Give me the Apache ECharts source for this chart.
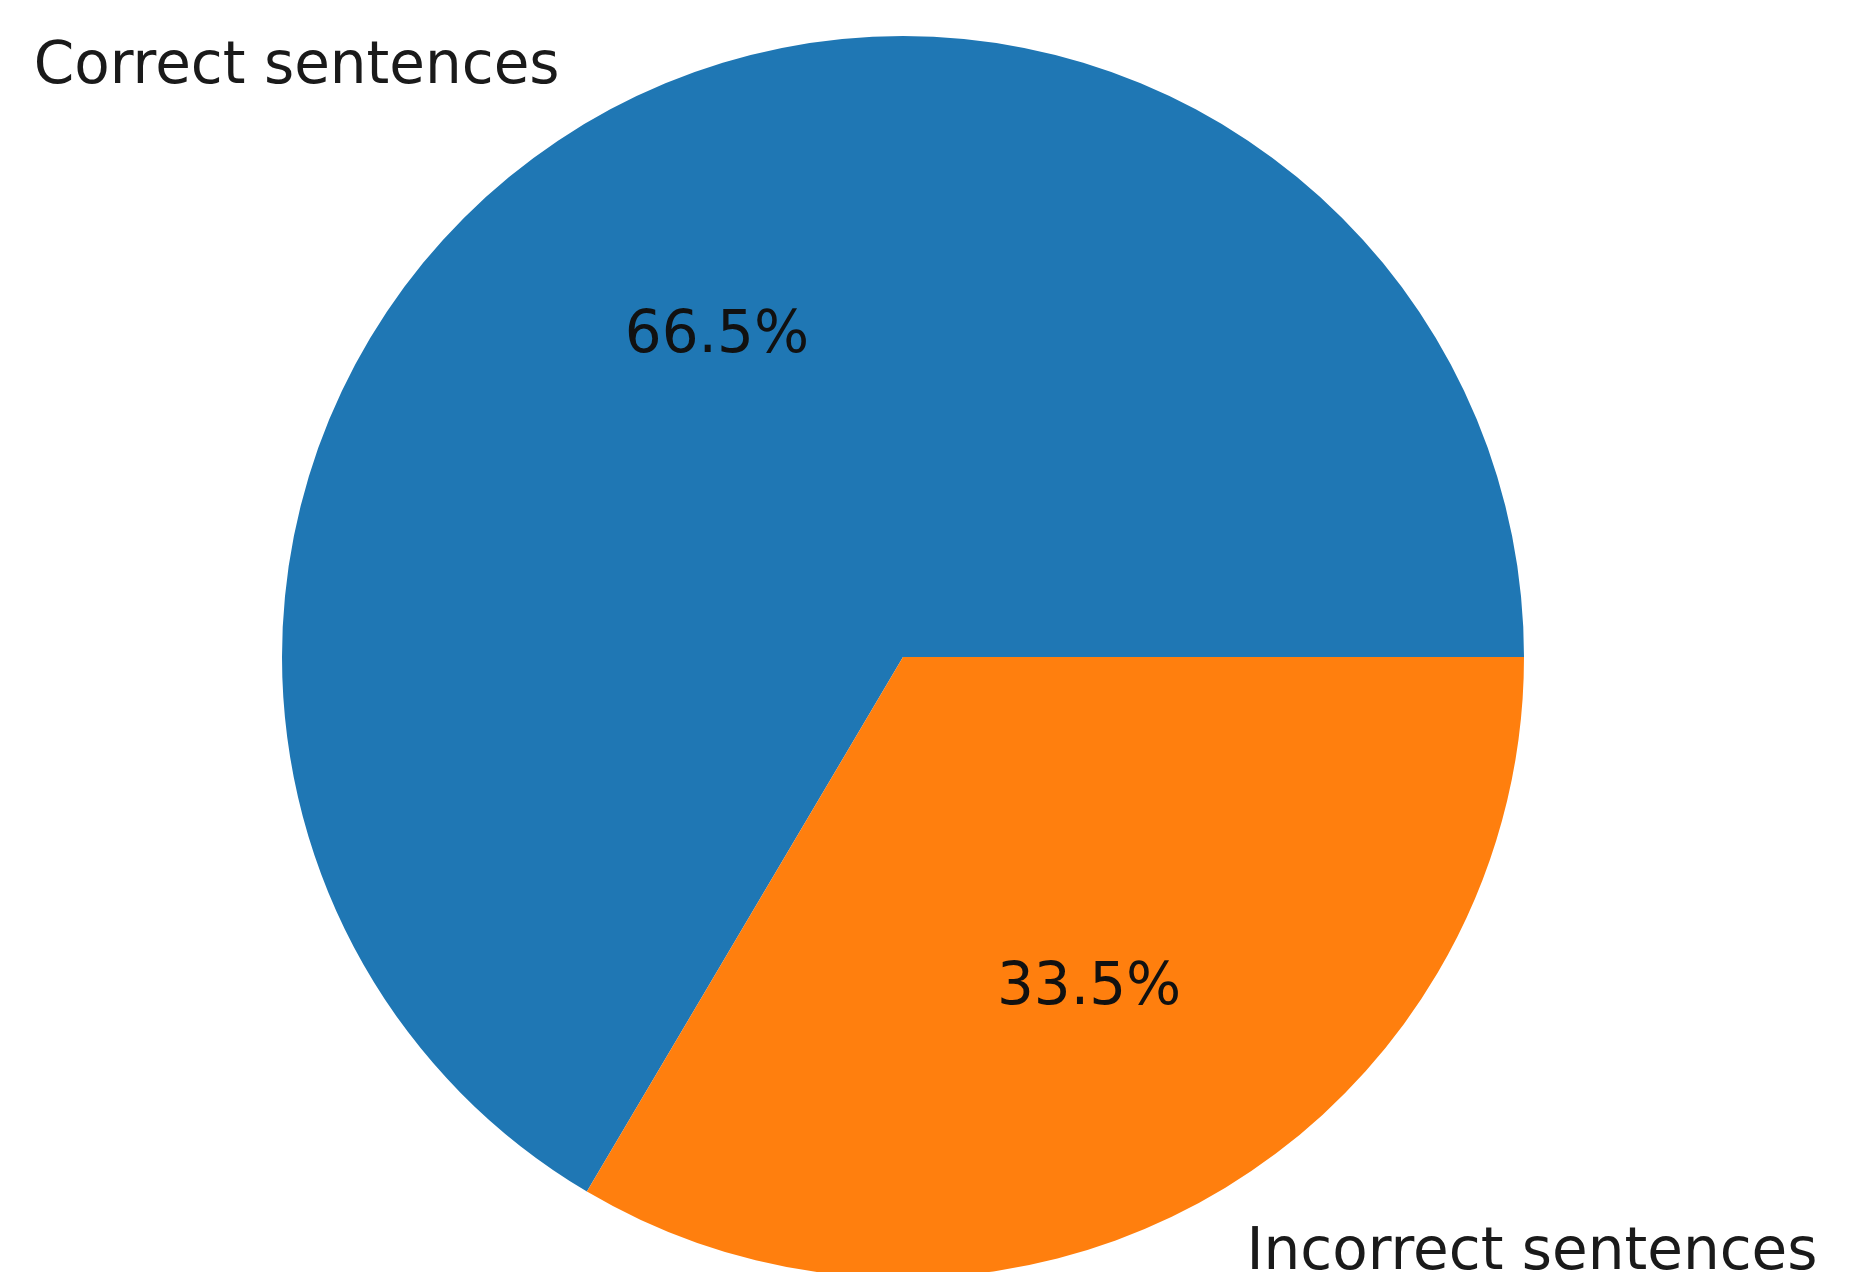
<!DOCTYPE html>
<html lang="en">
<head>
    <meta charset="UTF-8">
    <title>Sentences</title>
    <script src="https://cdn.jsdelivr.net/npm/echarts@6/dist/echarts.min.js"></script>
    <style>
        html, body { margin: 0; padding: 0; background: #fff; }
    </style>
</head>
<body>
    <div id="main" style="width: 1851px;height:1272px;"></div>
    <script type="text/javascript">
        const labels = ['Correct sentences', 'Incorrect sentences'];
        const shares = [66.5, 33.5];
        const colors = ['#1f77b4', '#ff7f0e'];

        var chartDom = document.getElementById('main');
        var myChart = echarts.init(chartDom);

        const R = 621;
        const center = [903, 657];
        const textFont = 'DejaVu Sans';

        const mainData = labels.map(function (name, i) {
            return { name: name, value: shares[i], itemStyle: { color: colors[i] } };
        });
        const pctData = labels.map(function (name, i) {
            return { name: name, value: shares[i] };
        });

        var option = {
            animation: false,
            series: [
                {
                    // the pie itself, names placed just outside (like matplotlib at 1.1r)
                    type: 'pie',
                    center: center,
                    radius: [0, R],
                    startAngle: 0,
                    clockwise: false,
                    avoidLabelOverlap: false,
                    silent: true,
                    label: {
                        show: true,
                        position: 'outside',
                        formatter: '{b}',
                        fontFamily: textFont,
                        fontSize: 58,
                        color: '#1a1a1a',
                        verticalAlign: 'middle',
                        offset: [0, 4]
                    },
                    labelLine: { show: false, length: R * 0.1, length2: 0 },
                    itemStyle: { borderWidth: 0 },
                    data: mainData
                },
                {
                    // invisible copy so the inside label lands at 0.6r
                    type: 'pie',
                    center: center,
                    radius: [0, R * 1.2],
                    startAngle: 0,
                    clockwise: false,
                    silent: true,
                    label: {
                        show: true,
                        position: 'inside',
                        formatter: function (p) {
                            return p.value.toFixed(1) + '%';
                        },
                        fontFamily: textFont,
                        fontSize: 58,
                        color: '#111',
                        offset: [0, 6]
                    },
                    itemStyle: { color: 'rgba(0,0,0,0)', borderWidth: 0 },
                    data: pctData
                }
            ]
        };
        myChart.setOption(option);
    </script>
</body>
</html>
